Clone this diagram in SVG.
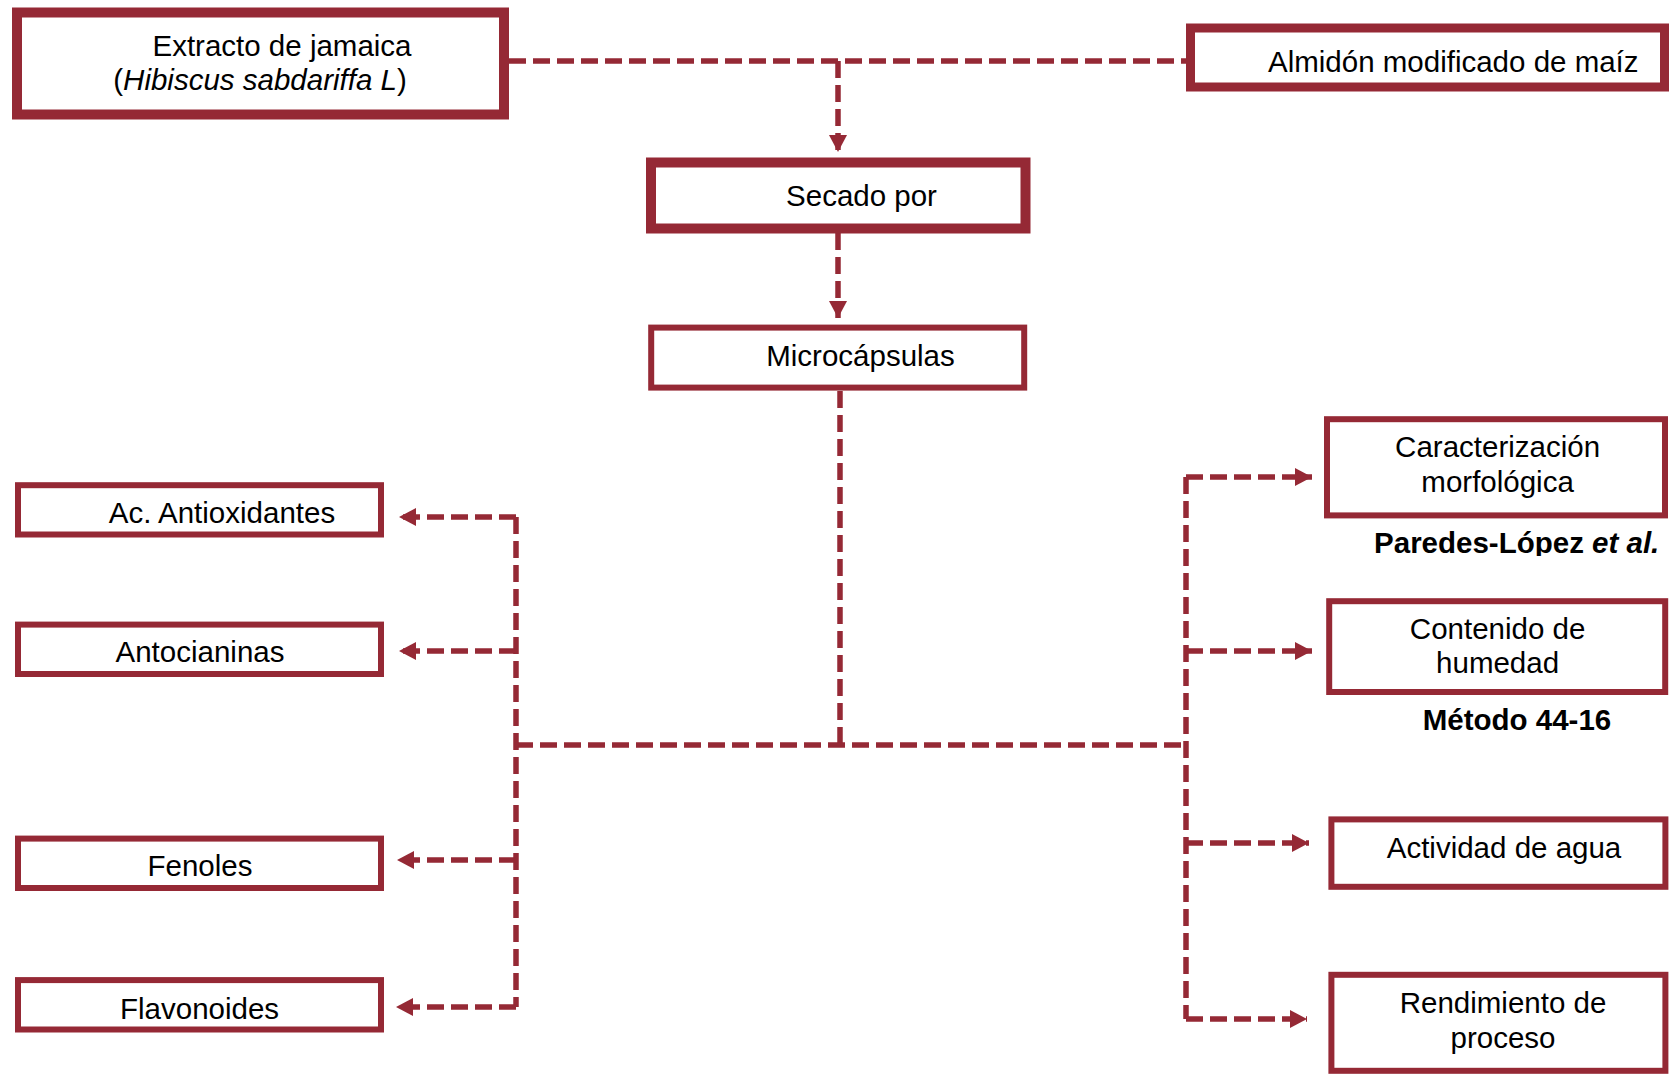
<svg xmlns="http://www.w3.org/2000/svg" width="1669" height="1075" viewBox="0 0 1669 1075">
  <style>
    .box { fill: #ffffff; stroke: #952935; }
    .thick { stroke-width: 10; }
    .mid { stroke-width: 9; }
    .thin { stroke-width: 6; }
    .lbl { font-family: "Liberation Sans", Arial, sans-serif; font-size: 29.5px; fill: #000000; text-anchor: middle; }
    .lbl-start { text-anchor: start; }
    .note { font-family: "Liberation Sans", Arial, sans-serif; font-size: 29.5px; font-weight: bold; fill: #000000; text-anchor: middle; }
    .dash { fill: none; stroke: #952935; stroke-width: 5.5; stroke-dasharray: 17 7; }
  </style>
  <defs>
    <marker id="arrow" viewBox="0 0 17 18" refX="17" refY="9" markerWidth="17" markerHeight="18" markerUnits="userSpaceOnUse" orient="auto">
      <path d="M0,0 L17,9 L0,18 Z" fill="#952935"/>
    </marker>
    <clipPath id="noteClip">
      <rect x="1300" y="520" width="369" height="36"/>
    </clipPath>
  </defs>

  <rect width="1669" height="1075" fill="#ffffff"/>

  <!-- connectors -->
  <g id="connectors">
    <!-- inputs merge into the dryer -->
    <path class="dash" d="M509,61 L1186,61"/>
    <path class="dash" d="M838,61 L838,152" marker-end="url(#arrow)"/>
    <path class="dash" d="M838,233 L838,318" marker-end="url(#arrow)"/>
    <!-- trunk from the microcapsules -->
    <path class="dash" d="M840,391 L840,745"/>
    <path class="dash" d="M516,745 L1186,745"/>
    <!-- left branch -->
    <path class="dash" d="M516,517 L516,1007"/>
    <path class="dash" d="M516,517 L399,517" marker-end="url(#arrow)"/>
    <path class="dash" d="M516,651 L399,651" marker-end="url(#arrow)"/>
    <path class="dash" d="M516,860 L397,860" marker-end="url(#arrow)"/>
    <path class="dash" d="M516,1007 L396,1007" marker-end="url(#arrow)"/>
    <!-- right branch -->
    <path class="dash" d="M1186,477 L1186,1019"/>
    <path class="dash" d="M1186,477 L1312,477" marker-end="url(#arrow)"/>
    <path class="dash" d="M1186,651 L1312,651" marker-end="url(#arrow)"/>
    <path class="dash" d="M1186,843 L1309,843" marker-end="url(#arrow)"/>
    <path class="dash" d="M1186,1019 L1307,1019" marker-end="url(#arrow)"/>
  </g>

  <g id="extracto">
    <rect class="box thick" x="17" y="12.5" width="487" height="102"/>
    <text class="lbl" x="282" y="56">Extracto de jamaica</text>
    <text class="lbl" x="260" y="89.5">(<tspan font-style="italic">Hibiscus sabdariffa L</tspan>)</text>
  </g>

  <g id="almidon">
    <rect class="box mid" x="1190.5" y="28" width="474" height="59"/>
    <text class="lbl lbl-start" x="1268" y="71.5">Almidón modificado de maíz</text>
  </g>

  <g id="secado">
    <rect class="box thick" x="651" y="162.5" width="374.5" height="66"/>
    <text class="lbl" x="861.5" y="205.5">Secado por</text>
  </g>

  <g id="microcapsulas">
    <rect class="box thin" x="651.2" y="327.6" width="373" height="60"/>
    <text class="lbl" x="860.5" y="366">Microcápsulas</text>
  </g>

  <g id="antioxidantes">
    <rect class="box thin" x="18" y="485.2" width="363" height="49.3"/>
    <text class="lbl" x="222" y="522.6">Ac. Antioxidantes</text>
  </g>

  <g id="antocianinas">
    <rect class="box thin" x="18" y="624.6" width="363" height="49.4"/>
    <text class="lbl" x="200" y="662">Antocianinas</text>
  </g>

  <g id="fenoles">
    <rect class="box thin" x="18" y="838.6" width="363" height="49.4"/>
    <text class="lbl" x="200" y="876">Fenoles</text>
  </g>

  <g id="flavonoides">
    <rect class="box thin" x="18" y="980.1" width="363" height="49.4"/>
    <text class="lbl" x="199.6" y="1018.6">Flavonoides</text>
  </g>

  <g id="caracterizacion">
    <rect class="box thin" x="1327" y="419.2" width="338" height="96.2"/>
    <text class="lbl" x="1497.6" y="456.6">Caracterización</text>
    <text class="lbl" x="1497.6" y="491.8">morfológica</text>
    <text class="note" x="1516.7" y="553" clip-path="url(#noteClip)">Paredes-López <tspan font-style="italic">et al.</tspan></text>
  </g>

  <g id="humedad">
    <rect class="box thin" x="1329.2" y="601.2" width="336" height="90.8"/>
    <text class="lbl" x="1497.6" y="638.6">Contenido de</text>
    <text class="lbl" x="1497.6" y="672.7">humedad</text>
    <text class="note" x="1517" y="730">Método 44-16</text>
  </g>

  <g id="actividad">
    <rect class="box thin" x="1331.4" y="819.4" width="334" height="67.4"/>
    <text class="lbl" x="1504" y="858">Actividad de agua</text>
  </g>

  <g id="rendimiento">
    <rect class="box thin" x="1331.4" y="974.8" width="334" height="96"/>
    <text class="lbl" x="1503" y="1013.3">Rendimiento de</text>
    <text class="lbl" x="1503" y="1048.4">proceso</text>
  </g>
</svg>
